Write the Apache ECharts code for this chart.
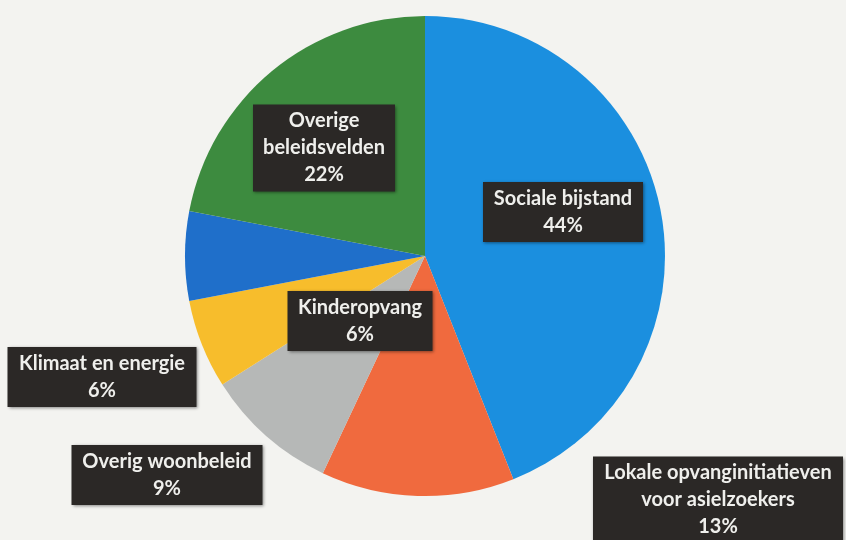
<!DOCTYPE html>
<html>
<head>
<meta charset="utf-8">
<script src="https://cdn.jsdelivr.net/npm/echarts@6/dist/echarts.min.js"></script>
<style>
	html, body { margin: 0; padding: 0; background: #f3f3f0; }
	#main { width: 846px; height: 540px; }
</style>
</head>
<body>
<div id="main"></div>
<script>
// slices, clockwise from 12 o'clock
var categories = ['Sociale bijstand', 'Lokale opvanginitiatieven\nvoor asielzoekers', 'Overig woonbeleid',
	'Klimaat en energie', 'Kinderopvang', 'Overige\nbeleidsvelden'];
var values = [44, 13, 9, 6, 6, 22];

var colors = ['#1b8fdf', '#f06a3e', '#b6b8b7', '#f7bd2c', '#1f6fca', '#3d8b3f'];
// label box centres and widths (px), the labels were dragged around by hand in the original
var labelPos = [[563, 212], [718, 500], [167, 475], [102, 377], [360, 321], [324, 148]];
var labelWidth = [160, 250, 191, 189, 145, 142];

var chart = echarts.init(document.getElementById('main'));

var data = categories.map(function (name, i) {
	return {
		name: name,
		value: values[i],
		itemStyle: { color: colors[i] },
		label: { width: labelWidth[i] }
	};
});

chart.setOption({
	backgroundColor: '#f3f3f0',
	animation: false,
	series: [{
		type: 'pie',
		center: [425, 256],
		radius: 240,
		startAngle: 90,
		clockwise: true,
		data: data,
		itemStyle: { borderWidth: 0 },
		label: {
			show: true,
			position: 'outside',
			formatter: '{b}\n{c}%',
			color: '#efefec',
			fontFamily: 'Lato',
			fontWeight: 'bold',
			fontSize: 20,
			lineHeight: 27,
			align: 'center',
			overflow: 'none',
			backgroundColor: '#2b2826',
			padding: [3, 0],
			shadowBlur: 3,
			shadowColor: 'rgba(0,0,0,0.45)',
			shadowOffsetX: 1,
			shadowOffsetY: 1
		},
		labelLine: { show: false },
		labelLayout: function (params) {
			var p = labelPos[params.dataIndex];
			return { x: p[0], y: p[1], align: 'center', verticalAlign: 'middle' };
		}
	}]
});
</script>
</body>
</html>
